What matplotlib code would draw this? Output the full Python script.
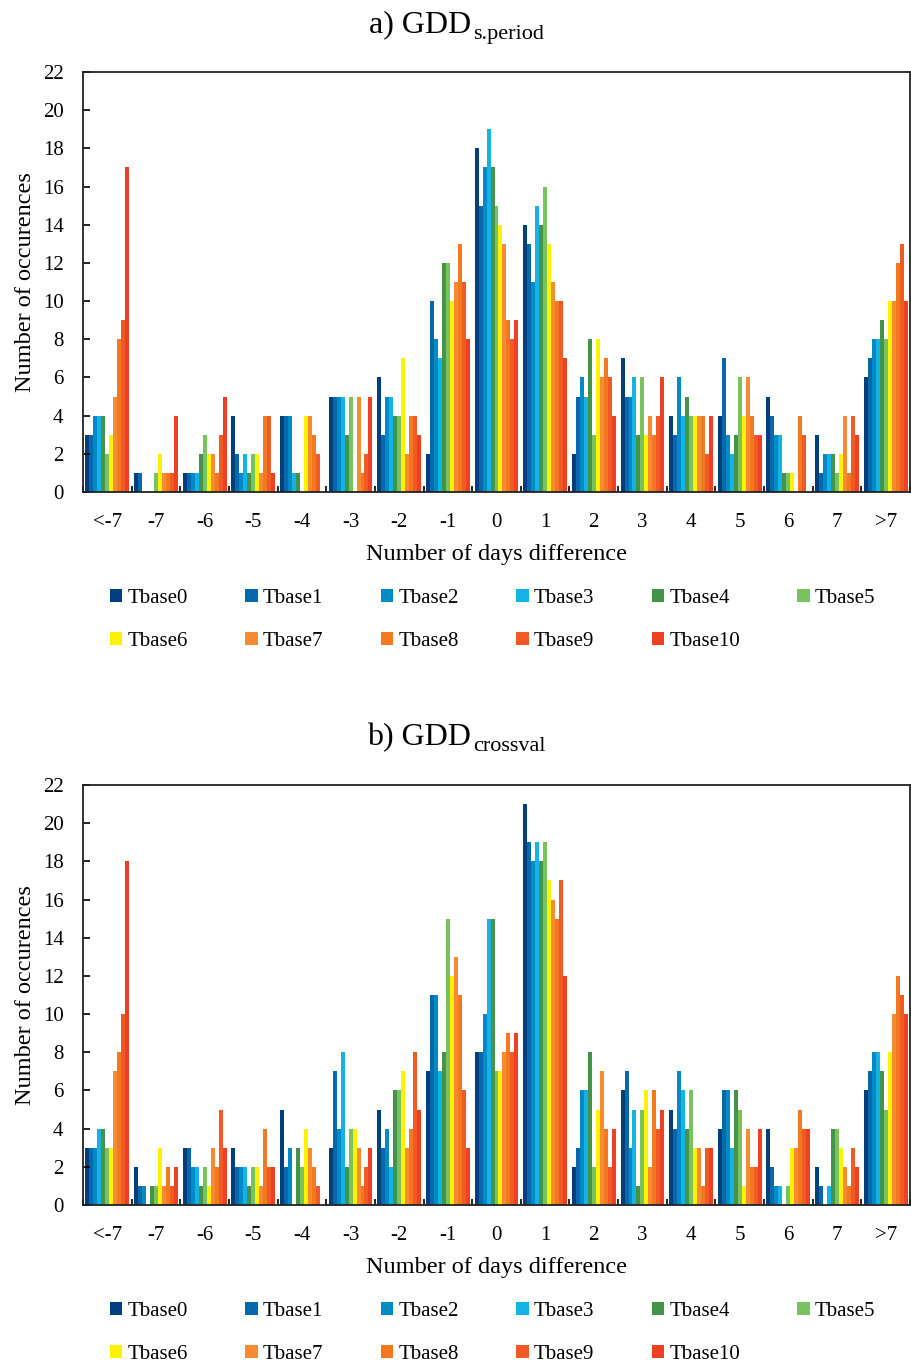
import matplotlib.pyplot as plt
import numpy as np
from matplotlib.patches import Patch

plt.rcParams["font.family"] = ["Liberation Serif", "DejaVu Serif"]

CATEGORIES = ["<-7", "-7", "-6", "-5", "-4", "-3", "-2", "-1", "0",
              "1", "2", "3", "4", "5", "6", "7", ">7"]
SERIES = [f"Tbase{i}" for i in range(11)]
COLORS = ["#003f7d", "#0868ac", "#008bc6", "#14b3e6", "#43944a", "#79c35f",
          "#fff200", "#f68b33", "#f47820", "#f15a24", "#ee4123"]

# rows = categories, columns = Tbase0..Tbase10
GDD_SPERIOD = np.array([
    [3, 3, 4, 4, 4, 2, 3, 5, 8, 9, 17],
    [1, 1, 0, 0, 0, 1, 2, 1, 1, 1, 4],
    [1, 1, 1, 1, 2, 3, 2, 2, 1, 3, 5],
    [4, 2, 1, 2, 1, 2, 2, 1, 4, 4, 1],
    [4, 4, 4, 1, 1, 0, 4, 4, 3, 2, 0],
    [5, 5, 5, 5, 3, 5, 0, 5, 1, 2, 5],
    [6, 3, 5, 5, 4, 4, 7, 2, 4, 4, 3],
    [2, 10, 8, 7, 12, 12, 10, 11, 13, 11, 8],
    [18, 15, 17, 19, 17, 15, 14, 13, 9, 8, 9],
    [14, 13, 11, 15, 14, 16, 13, 11, 10, 10, 7],
    [2, 5, 6, 5, 8, 3, 8, 6, 7, 6, 4],
    [7, 5, 5, 6, 3, 6, 3, 4, 3, 4, 6],
    [4, 3, 6, 4, 5, 4, 4, 4, 4, 2, 4],
    [4, 7, 3, 2, 3, 6, 4, 6, 4, 3, 3],
    [5, 4, 3, 3, 1, 1, 1, 0, 4, 3, 0],
    [3, 1, 2, 2, 2, 1, 2, 4, 1, 4, 3],
    [6, 7, 8, 8, 9, 8, 10, 10, 12, 13, 10],
])

GDD_CROSSVAL = np.array([
    [3, 3, 3, 4, 4, 3, 3, 7, 8, 10, 18],
    [2, 1, 1, 0, 1, 1, 3, 1, 2, 1, 2],
    [3, 3, 2, 2, 1, 2, 1, 3, 2, 5, 3],
    [3, 2, 2, 2, 1, 2, 2, 1, 4, 2, 2],
    [5, 2, 3, 0, 3, 2, 4, 3, 2, 1, 0],
    [3, 7, 4, 8, 2, 4, 4, 3, 1, 2, 3],
    [5, 3, 4, 2, 6, 6, 7, 3, 4, 8, 5],
    [7, 11, 11, 7, 8, 15, 12, 13, 11, 6, 3],
    [8, 8, 10, 15, 15, 7, 7, 8, 9, 8, 9],
    [21, 19, 18, 19, 18, 19, 17, 16, 15, 17, 12],
    [2, 3, 6, 6, 8, 2, 5, 7, 4, 2, 4],
    [6, 7, 3, 5, 1, 5, 6, 2, 6, 4, 5],
    [5, 4, 7, 6, 4, 6, 3, 3, 1, 3, 3],
    [4, 6, 6, 3, 6, 5, 1, 4, 2, 2, 4],
    [4, 2, 1, 1, 0, 1, 3, 3, 5, 4, 4],
    [2, 1, 0, 1, 4, 4, 3, 2, 1, 3, 2],
    [6, 7, 8, 8, 7, 5, 8, 10, 12, 11, 10],
])

W, H = 911, 1364


def draw_panel(ax, data, label, sub, dy):
    n_cat, n_ser = data.shape
    x = np.arange(n_cat)
    bw = 0.9 / n_ser
    for k in range(n_ser):
        ax.bar(x + (k - (n_ser - 1) / 2) * bw, data[:, k], width=bw,
               color=COLORS[k], linewidth=0)
    ax.set_xlim(-0.5, n_cat - 0.5)
    ax.set_ylim(0, 22)
    ax.set_yticks(range(0, 23, 2))
    ax.set_xticks(x)
    ax.set_xticklabels(CATEGORIES, fontsize=15)
    ax.set_xticks(np.arange(n_cat + 1) - 0.5, minor=True)
    ax.tick_params(axis="x", which="major", length=0, pad=15)
    ax.tick_params(axis="x", which="minor", direction="in", length=4, width=1.2)
    ax.tick_params(axis="y", direction="in", length=5, width=1.2, labelsize=15, pad=14)
    for s in ax.spines.values():
        s.set_linewidth(1.3)
        s.set_color("#222222")
    ax.set_xlabel("Number of days difference", fontsize=17.5, labelpad=9)
    ax.set_ylabel("Number of occurences", fontsize=17.5, labelpad=5)

    # title: main text plus lowered subscript
    fig.text(471 / W, 1 - (32 + dy) / H, label, ha="right", va="baseline",
             fontsize=23)
    fig.text(473 / W, 1 - (38.5 + dy) / H, sub, ha="left", va="baseline",
             fontsize=16)

    handles = [Patch(facecolor=c, label=s) for c, s in zip(COLORS, SERIES)]
    order = [0, 6, 1, 7, 2, 8, 3, 9, 4, 10, 5]
    fig.legend([handles[i] for i in order], [SERIES[i] for i in order],
               ncol=6, loc="center left", frameon=False, fontsize=15,
               bbox_to_anchor=(91 / W, 1 - (620 + dy) / H),
               handlelength=0.6, handleheight=0.6, handletextpad=0.25,
               columnspacing=2.75, labelspacing=1.15)


fig = plt.figure(figsize=(W / 100, H / 100), dpi=100)
ax_a = fig.add_axes([83 / W, 1 - 492 / H, 827 / W, 420 / H])
ax_b = fig.add_axes([83 / W, 1 - 1205 / H, 827 / W, 420 / H])

draw_panel(ax_a, GDD_SPERIOD, "a) GDD", "s.period", 0)
draw_panel(ax_b, GDD_CROSSVAL, "b) GDD", "crossval", 713)

fig.savefig("out.png", dpi=100, facecolor="white")
